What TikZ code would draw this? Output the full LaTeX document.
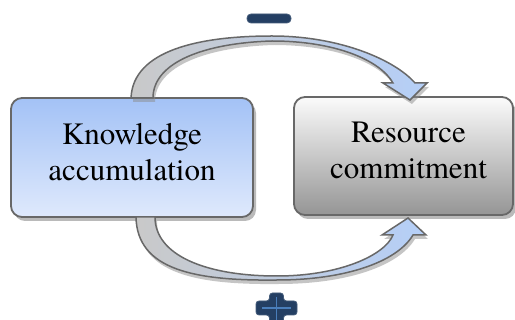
\documentclass[tikz,border=0pt]{standalone}
\usepackage{fontspec}
\setmainfont{TeX Gyre Termes}
\usetikzlibrary{shadows}

\definecolor{knowtop}{HTML}{A3C2F6}
\definecolor{knowbot}{HTML}{DFE9FC}
\definecolor{restop}{HTML}{FBFBFB}
\definecolor{resbot}{HTML}{959595}
\definecolor{edgegray}{HTML}{686868}
\definecolor{signnavy}{HTML}{243F63}
\definecolor{signline}{HTML}{4A7EBB}
\definecolor{ribbon}{HTML}{C9C9C9}
\definecolor{headblue}{HTML}{B5CFF8}

% curved block arrow over the top: from the left box up and over into the right box
\def\toparrowpath{(131,98) .. controls (133,50) and (200,36) .. (272,36)
  .. controls (340,36) and (395,60) .. (415,83) -- (427,83) -- (410,100)
  -- (383,83) -- (393,83) .. controls (380,60) and (335,41) .. (272,41)
  .. controls (205,43) and (153,62) .. (153,98) -- cycle}
% curved block arrow underneath: from the left box down and round into the right box
\def\botarrowpath{(136,217) .. controls (137,270) and (195,281) .. (277,280)
  .. controls (345,280) and (397,262) .. (413,235) -- (426,235) -- (408,218)
  -- (382,235) -- (393,235) .. controls (385,255) and (340,276) .. (277,276)
  .. controls (205,276) and (155,255) .. (155,217) -- cycle}

\tikzset{
  box/.style={draw=edgegray, line width=1.8pt, rounded corners=11pt,
    inner sep=0pt, align=center, text depth=12pt,
    font=\rmfamily\fontsize{31}{36}\selectfont,
    drop shadow={shadow xshift=3pt, shadow yshift=-4pt, fill=black!45, opacity=0.6}},
  blockarrow/.style={draw=edgegray, line width=1.5pt, line join=miter,
    left color=ribbon, middle color=ribbon!65!headblue, right color=headblue},
  arrowshadow/.style={fill=black!45, opacity=0.5},
  sign/.style={fill=signnavy, draw=signnavy!85!white, line width=0.8pt},
  signmark/.style={draw=signline, line width=1.2pt}
}

\begin{document}
\begin{tikzpicture}[x=1pt, y=-1pt]
  \useasboundingbox (0,0) rectangle (515,320);

  % the two stages
  \node[box, top color=knowtop, bottom color=knowbot,
        minimum width=242pt, minimum height=119pt] (know) at (132,157.5)
        {Knowledge\\accumulation};
  \node[box, top color=restop, bottom color=resbot,
        minimum width=219pt, minimum height=118pt] (res) at (403.5,156)
        {\hspace*{10pt}Resource\\\hspace*{10pt}commitment};

  % arrow shadows
  \begin{scope}[shift={(2,4)}]
    \fill[arrowshadow] \toparrowpath;
    \fill[arrowshadow] \botarrowpath;
  \end{scope}

  % feedback arrows
  \path[blockarrow] \toparrowpath;
  \path[blockarrow] \botarrowpath;

  % minus sign above the upper loop
  \filldraw[sign, rounded corners=4pt] (247,14) rectangle (291,23);

  % plus sign below the lower loop
  \filldraw[sign, rounded corners=3pt] (256,301) -- (269.5,301) -- (269.5,293)
    -- (283.5,293) -- (283.5,301) -- (297,301) -- (297,315) -- (283.5,315)
    -- (283.5,323) -- (269.5,323) -- (269.5,315) -- (256,315) -- cycle;
  \draw[signmark] (262,308) -- (291,308);
  \draw[signmark] (276.5,297) -- (276.5,321);
\end{tikzpicture}
\end{document}
